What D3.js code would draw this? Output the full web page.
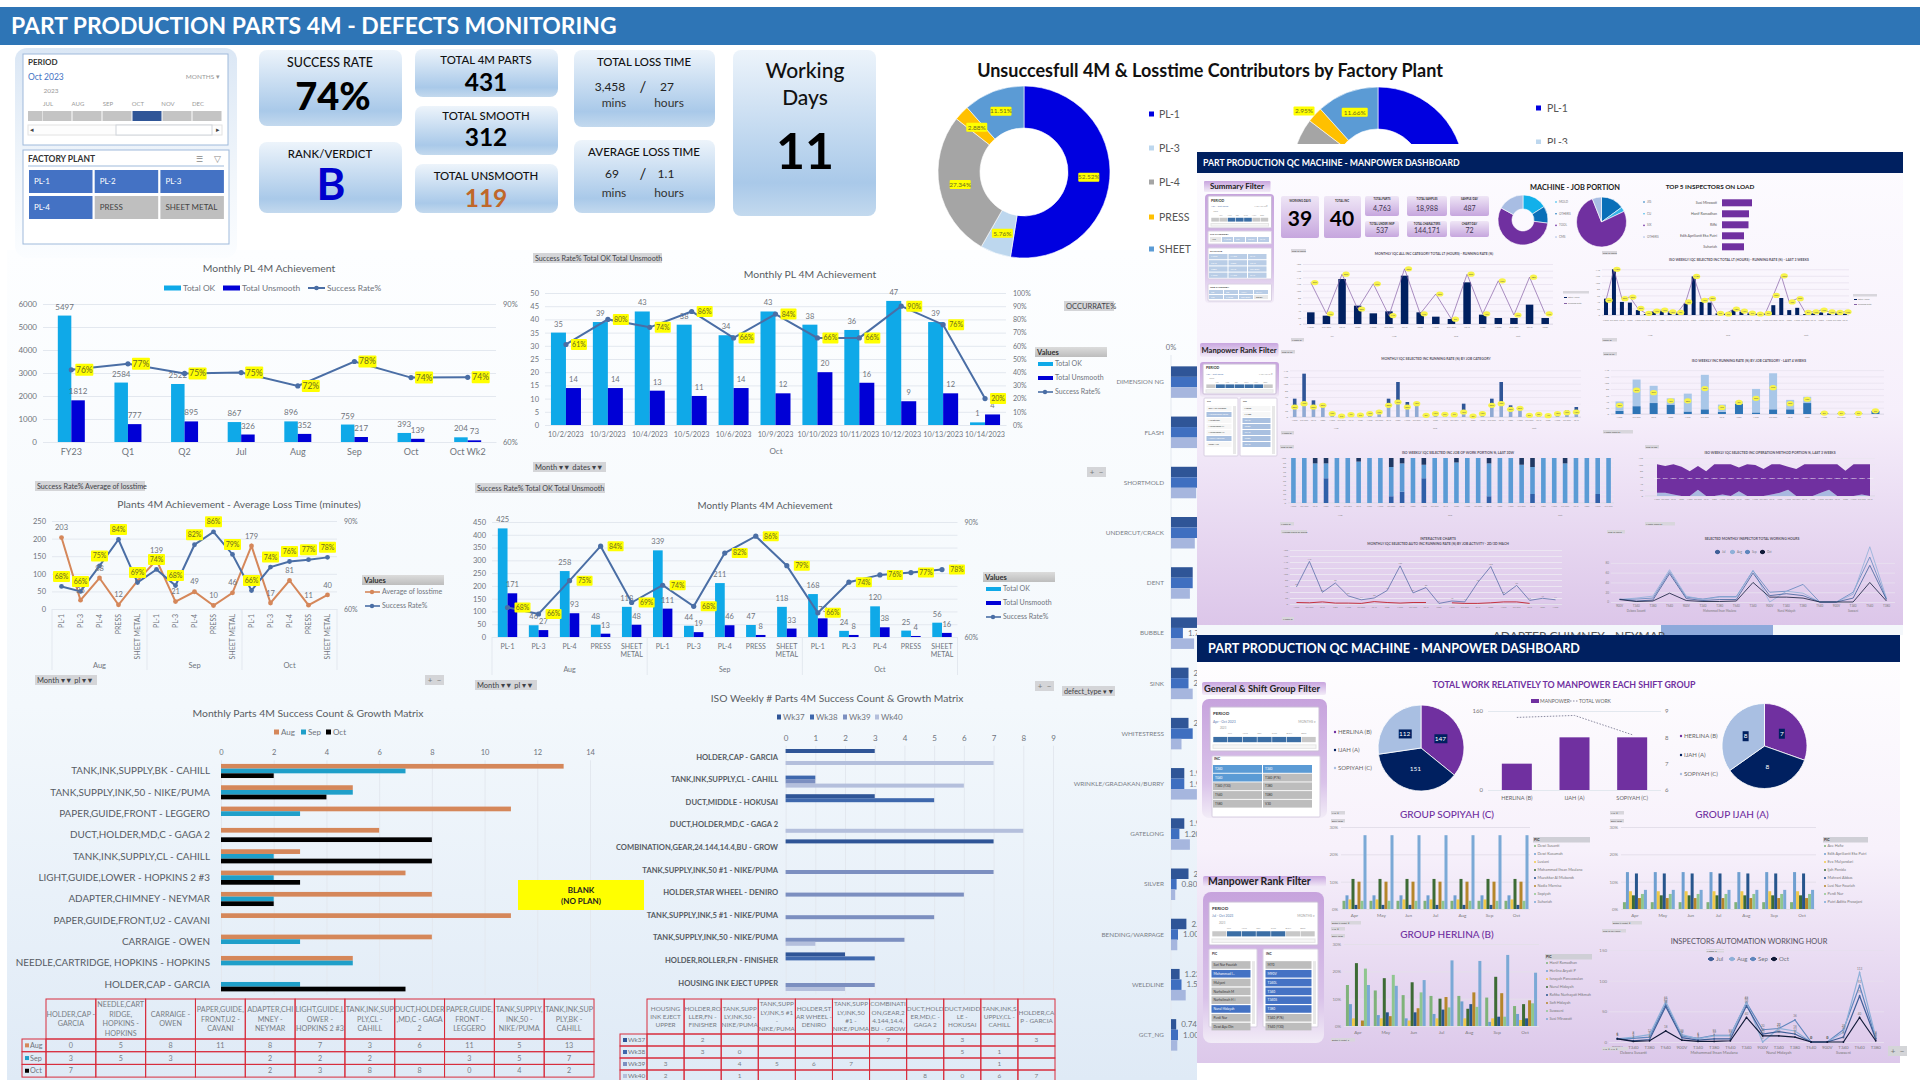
<!DOCTYPE html>
<html>
<head>
<meta charset="utf-8">
<title>Part Production Parts 4M - Defects Monitoring</title>
<style>
html,body{margin:0;padding:0;background:#fff;overflow:hidden}
svg{display:block}
text{font-family:Lato,"Noto Sans",sans-serif}
</style>
<script src="https://d3js.org/d3.v7.min.js"></script>
</head>
<body>
<script>
// ---- data ----
var monthlyCats = ["FY23","Q1","Q2","Jul","Aug","Sep","Oct","Oct Wk2"];
var monthlyOk = [5497,2584,2522,867,896,759,393,204];
var monthlyUnsmooth = [1812,777,895,326,352,217,139,73];
var monthlyRate = [75.7,77,74.9,75.1,72.2,77.5,74,74.05];

var dailyCats = ["10/2/2023","10/3/2023","10/4/2023","10/5/2023","10/6/2023","10/9/2023","10/10/2023","10/11/2023","10/12/2023","10/13/2023","10/14/2023"];
var dailyOk = [35,39,43,38,34,43,38,36,47,39,1];
var dailyUnsmooth = [14,14,13,11,14,12,20,16,9,12,4];
var dailyRate = [61,80,74,86,66,84,66,66,90,76,20];

var plantCats = ["PL-1","PL-3","PL-4","PRESS","SHEET METAL","PL-1","PL-3","PL-4","PRESS","SHEET METAL","PL-1","PL-3","PL-4","PRESS","SHEET METAL"];
var plantMonths = ["Aug","Sep","Oct"];
var plantLoss = [203,25,88,12,80,139,21,49,10,46,179,17,81,11,40];
var plantRate = [67.7,66,74.7,83.7,69,73.5,68,81.9,86.3,78.6,66.3,74.3,76.2,76.8,77.6];
var plantOk = [425,46,258,48,118,339,44,211,47,118,168,24,120,25,56];
var plantUnsmooth = [171,27,93,13,48,111,19,46,8,33,73,8,38,4,16];

var partCats = ["TANK,INK,SUPPLY,BK - CAHILL","TANK,SUPPLY,INK,50 - NIKE/PUMA","PAPER,GUIDE,FRONT - LEGGERO","DUCT,HOLDER,MD,C - GAGA 2","TANK,INK,SUPPLY,CL - CAHILL","LIGHT,GUIDE,LOWER - HOPKINS 2 #3","ADAPTER,CHIMNEY - NEYMAR","PAPER,GUIDE,FRONT,U2 - CAVANI","CARRAIGE - OWEN","NEEDLE,CARTRIDGE, HOPKINS  - HOPKINS","HOLDER,CAP - GARCIA"];
var partAug = [13,5,11,6,3,7,8,11,8,5,0];
var partSep = [7,5,3,null,2,2,2,null,3,5,3];
var partOct = [2,4,0,8,8,3,2,null,null,null,7];
var partHeaders = [["HOLDER,CAP -","GARCIA"],["NEEDLE,CART","RIDGE,","HOPKINS  -","HOPKINS"],["CARRAIGE -","OWEN"],["PAPER,GUIDE,","FRONT,U2 -","CAVANI"],["ADAPTER,CHI","MNEY -","NEYMAR"],["LIGHT,GUIDE,L","OWER -","HOPKINS 2 #3"],["TANK,INK,SUP","PLY,CL -","CAHILL"],["DUCT,HOLDER",",MD,C - GAGA","2"],["PAPER,GUIDE,","FRONT -","LEGGERO"],["TANK,SUPPLY,","INK,50 -","NIKE/PUMA"],["TANK,INK,SUP","PLY,BK -","CAHILL"]];

var weekCats = ["HOLDER,CAP - GARCIA","TANK,INK,SUPPLY,CL - CAHILL","DUCT,MIDDLE - HOKUSAI","DUCT,HOLDER,MD,C - GAGA 2","COMBINATION,GEAR,24.144,14.4,BU - GROW","TANK,SUPPLY,INK,50 #1 - NIKE/PUMA","HOLDER,STAR WHEEL - DENIRO","TANK,SUPPLY,INK,5 #1 - NIKE/PUMA","TANK,SUPPLY,INK,50 - NIKE/PUMA","HOLDER,ROLLER,FN - FINISHER","HOUSING INK EJECT UPPER"];
var wk37 = [3,null,3,null,7,null,null,null,null,2,null];
var wk38 = [null,1,5,null,null,null,null,null,0,3,null];
var wk39 = [null,1,null,null,null,7,6,5,4,null,3];
var wk40 = [7,6,0,8,null,null,null,null,1,null,2];
var weekHeaders = [["HOUSING","INK EJECT","UPPER"],["HOLDER,RO","LLER,FN -","FINISHER"],["TANK,SUPP","LY,INK,50 -","NIKE/PUMA"],["TANK,SUPP","LY,INK,5 #1","-","NIKE/PUMA"],["HOLDER,ST","AR WHEEL -","DENIRO"],["TANK,SUPP","LY,INK,50","#1 -","NIKE/PUMA"],["COMBINATI","ON,GEAR,2","4.144,14.4,","BU - GROW"],["DUCT,HOLD","ER,MD,C -","GAGA 2"],["DUCT,MIDD","LE -","HOKUSAI"],["TANK,INK,S","UPPLY,CL -","CAHILL"],["HOLDER,CA","P - GARCIA"]];

var donutLabels = ["PL-1","PL-3","PL-4","PRESS","SHEET"];
var donutParts = [52.52,5.76,27.34,2.88,11.51];
var donutLoss = [52.41,5.7,27.28,2.95,11.66];

var defectCats = ["DIMENSION NG","FLASH","SHORTMOLD","UNDERCUT/CRACK","DENT","BUBBLE","SINK","WHITESTRESS","WRINKLE/GRADAKAN/BURRY","GATELONG","SILVER","BENDING/WARPAGE","WELDLINE","GCT_NG"];
var defectA = [5,4.5,4,4,3.1,3.8,2.5,2.5,1.9,1.9,2.5,2.2,1.23,0.74];
var defectB = [5,4.2,4,4,3.1,1.7,2.5,3.1,1.9,1.2,0.8,1,1.5,1];
var defectC = [4,3.9,3.6,3.4,2.7,3.3,3.1,1.5,3.7,2.7,0.6,0.9,2.1,0.9];

var qcDays = 39, qcTotal = 40;
var qcKpiNames = ["TOTAL PARTS","TOTAL SAMPLES","SAMPLE/DAY","TOTAL UNDER INSP","TOTAL CHARACTERS","CHART/DAY"];
var qcKpiValues = ["4,763","18,988","487","537","144,171","72"];
var jobLabels = ["MOLD","OTHERS","TOOL","CMS"];
var jobPortion = [16,11,56,17];
var machineLabels = ["JIG","CU","SIX","OTHERS"];
var machinePortion = [15,3,76,6];
var topNames = ["Susi Mirawati","Hanif Ramadhan","Rifki","Edik Aprilianti Eka Putri","Suhariah"];
var topLoad = [30,27,26.5,22,22];

var qcMonthTicks = ["M090","OTHERS","T040","T380","M090","OTHERS","T040","T380","M090","OTHERS","T040","T380","M090","OTHERS","T040","T380"];
var qcMonthHours = [35,25,135,55,32,38,145,35,22,15,125,28,18,18,58,18];
var qcMonthRate = [69,17,83,25,67,14,92,17,50,8,83,17,72,15,78,17];
var qcWeekHours = [50,140,40,38,15,3,10,12,8,5,35,118,40,38,5,3,15,10,5,3,2,30,52,15,22,3,5,8,5,5,4];
var qcWeekRate = [45,140,50,55,20,5,12,15,10,8,40,118,45,50,5,3,18,12,6,3,5,60,120,40,50,8,10,15,10,8,10];
var jobMonthDark = [25,90,20,5,5,2,3,2,5,5,20,60,15,5,3,5,4,3,25,2,5,20,65,12,4,3,4,2,5,7,15];
var jobMonthLight = [30,40,30,35,10,3,7,6,10,15,35,45,30,40,5,10,8,7,15,3,10,35,40,23,26,5,8,4,10,13,15];
var jobWeekBase = [10,25,35,30,8,15,7,32,5,15,15,35,3,2,2,10];
var jobWeekTop = [30,85,55,20,57,110,23,8,75,115,30,20,0,0,0,0];
var stackMid = [0,0,0,55,0,0,0,0,0,15,25,0,55,0,0,0,0,0,15,0,0,0,20,0,0,0,0,0,20,0];
var stackDark = [0,0,12,12,0,0,8,0,0,20,12,0,15,0,0,10,0,0,12,0,0,15,20,0,0,12,0,0,0,0];
var methodTop = [100,95,100,92,78,95,78,100,100,100,90,100,98,85,100,100,92,85,100,100,100,100,100,80,100,100,100];
var methodBase = [10,10,5,0,0,20,0,0,5,0,15,0,0,0,5,10,20,0,0,0,10,20,0,0,0,5,0];
var dailyRunRate = [57,142,39,70,27,14,20,45,127,37,55,2,10,7,72,125,30,62,12,19,14];
var dailyRunTarget = [5,4,7,3,3,2,8,5,3,5,5,null,4,2,2,4,7,7,2,null,null];

var shiftGroups = ["HERLINA (B)","IJAH (A)","SOPIYAH (C)"];
var shiftWork = [147,151,112];
var shiftManpower = [7,8,8];

var monthsShort = ["Apr","May","Jun","Jul","Aug","Sep","Oct"];
var sopiyahNames = ["Dewi Susanti","Dewi Kusumah","Lusiani","Mohammad Ihsan Maulana","Muzakkar Al Mubarok","Nadia Marnisa","Sopiyah","Suhariah"];
var sopiyahShare = [3,5,3.5,11,1.5,10,3,27];
var ijahNames = ["Ace Hafiz","Edik Aprilianti Eka Putri","Eva Mulyandari","Ijah Ponida","Mahrani Abbas","Lusi Nur Fauziah","Perdi Nur","Putri Aditia Prasojani"];
var ijahShare = [2.5,13.5,6.5,5,13,4,5.5,7];
var herlinaNames = ["Hanif Ramadhan","Herlina Aryati P","Isnayah Pancawulan","Nurul Hidayah","Rafika Nurhayati Hikmah","Sofi Hidayah","Suwaeni","Susi Mirawati"];
var herlinaApr = [15,8,2.8,23,0,2,21,15];
var herlinaMay = [13,4,2.8,17.5,5,3.6,18.7,14.7];
var herlinaJun = [11.3,2.8,2,16,5,6.5,12.3,16.8];
var herlinaJul = [11,4.4,2.8,10,6,10.6,6.8,24];
var herlinaAug = [11,9,2.8,6.3,8,12.3,7,23.8];
var herlinaSep = [10.4,1.5,2.8,18,3.4,12,3.4,26];
var herlinaOct = [7.3,4.4,2.2,8,2.8,9.4,8.3,19.5];

var hourTicks = ["900V","T340","T380","T540","900V","T340","T380","T540","T340","900V","T340","T380","T540","900V","T340","T540","T380"];
var hourGroups = ["Debora Susanti","Mohammad Ihsan Maulana","Nurul Hidayah","Suwaeni"];
var hourJul = [6,2,4,58,7,3,5,5,59,13,17,13,0,0,8,75,5];
var hourAug = [5,8,12,66,12,5,10,10,65,0,22,18,0,0,16,113,8];
var hourSep = [5,6,8,62,10,6,11,11,64,20,22,36,0,0,20,92,6];
var hourOct = [5,1,2,18,3,1,1,2,40,10,10,8,0,0,0,40,2];

// ---- colours ----
var cOk = "#0fa9e8", cUn = "#0000d6", cRate = "#4a6ea5", cLoss = "#d5875a";
var cText = "#6f747c", cGrid = "#e3e8ef";
var cNavy = "#002060", cPurple = "#7030a0";
var peopleColors = ["#7fb27a","#6f9fd0","#f0c94a","#3d6b35","#27558c","#b5862a","#8fc68f","#7ba9d6"];

var svg = d3.select("body").append("svg").attr("width",1920).attr("height",1080);
var defs = svg.append("defs");

function grad(id, stops, horizontal) {
  var g = defs.append("linearGradient").attr("id",id).attr("x1",0).attr("y1",0)
    .attr("x2",horizontal?1:0).attr("y2",horizontal?0:1);
  stops.forEach(function(s){ g.append("stop").attr("offset",s[0]).attr("stop-color",s[1]); });
}
grad("pageBg",[[0,"#fdfeff"],[0.55,"#f3f8fc"],[1,"#dfeaf6"]]);
grad("kpi",[[0,"#edf4fb"],[0.8,"#a9c9e9"],[1,"#c3d9ee"]]);
grad("panelBlue",[[0,"#dbe7f5"],[0.6,"#f1f6fb"],[1,"#fbfdff"]]);
grad("qcBg",[[0,"#fdfcff"],[0.55,"#f6effb"],[1,"#dcc6e9"]]);
grad("qcBg2",[[0,"#ffffff"],[0.5,"#f7f1fb"],[1,"#dcc8ea"]]);
grad("chipPurple",[[0,"#c8a5df"],[1,"#f3ecf8"]]);
grad("boxPurple",[[0,"#c7a3dd"],[0.7,"#d9c2e9"],[1,"#f2ecf7"]]);
grad("qcKpi",[[0,"#efe6f6"],[1,"#c6a6de"]]);
grad("chipGray",[[0,"#dcdcdc"],[1,"#bdbdbd"]]);

function txt(g,x,y,s,size,color,anchor,weight) {
  return g.append("text").attr("x",x).attr("y",y).attr("dy",".35em")
    .attr("font-size",size).attr("fill",color||"#000")
    .attr("text-anchor",anchor||"middle").attr("font-weight",weight||400).text(s);
}
function box(g,x,y,w,h,fill,rx,stroke) {
  var r = g.append("rect").attr("x",x).attr("y",y).attr("width",w).attr("height",h).attr("fill",fill);
  if (rx) r.attr("rx",rx);
  if (stroke) r.attr("stroke",stroke).attr("stroke-width",1);
  return r;
}
function chip(x,y,w,h,s,size) {
  box(svg,x,y,w,h,"#d4d5d8");
  txt(svg,x+2,y+h/2,s,size||7.5,"#3f4247","start");
}
function styleAxis(sel,size,color,grid) {
  sel.select(".domain").remove();
  sel.selectAll("line").attr("stroke",grid||cGrid);
  sel.selectAll("text").attr("fill",color||cText).style("font-size",size+"px").style("font-family","Lato,sans-serif");
}
function yellowTag(g,x,y,s,w,h,fs) {
  box(g,x-w/2,y-h/2,w,h,"#ffff00",1);
  txt(g,x,y,s,fs,"#6b6b20");
}

// generic bars + line chart on two value axes
function combo(o) {
  var g = svg.append("g");
  var fs = o.fs||9;
  var x = d3.scaleBand().domain(d3.range(o.cats.length)).range([o.x0,o.x1]);
  var y = d3.scaleLinear().domain([0,o.yMax]).range([o.y0,o.yTop]);
  var r = d3.scaleLinear().domain(o.rDomain).range([o.y0,o.yTop]);
  g.append("g").attr("transform","translate("+o.x0+",0)")
    .call(d3.axisLeft(y).tickValues(o.yTicks).tickSize(-(o.x1-o.x0)).tickPadding(o.pad||6).tickFormat(d3.format("d")))
    .call(styleAxis,fs);
  g.append("g").attr("transform","translate("+o.x1+",0)")
    .call(d3.axisRight(r).tickValues(o.rTicks).tickSize(0).tickPadding(o.rPad||7).tickFormat(function(d){return d+"%";}))
    .call(styleAxis,fs-0.5);
  var xa = g.append("g").attr("transform","translate(0,"+o.y0+")")
    .call(d3.axisBottom(x).tickSize(0).tickSizeOuter(0).tickPadding(o.catPad||7).tickFormat(function(i){return o.cats[i];}));
  xa.select(".domain").attr("stroke",cGrid);
  xa.selectAll("text").attr("fill",cText).style("font-size",(o.catFs||fs+1)+"px").style("font-family","Lato,sans-serif");
  if (o.rotate) {
    xa.selectAll("text").attr("transform","rotate(-90)").attr("text-anchor","end")
      .attr("x",-5).attr("y",0).attr("dy",".35em");
  }
  if (o.wrap) {
    xa.selectAll("text").each(function(i){
      var parts = o.cats[i].split(" "), t = d3.select(this);
      if (parts.length < 2) return;
      t.text(null);
      parts.forEach(function(p,k){ t.append("tspan").attr("x",0).attr("dy",k?"1.15em":"0.71em").text(p); });
    });
  }
  var bw = o.barW, nb = o.bars.length;
  o.bars.forEach(function(b,k){
    var offs = (k-nb/2)*bw;
    g.selectAll(null).data(b.vals).enter().append("rect")
      .attr("x",function(d,i){return x(i)+x.bandwidth()/2+offs;})
      .attr("y",function(d){return y(d);})
      .attr("width",bw)
      .attr("height",function(d){return o.y0-y(d);})
      .attr("fill",b.color);
    if (o.barLabels) {
      g.selectAll(null).data(b.vals).enter().append("text")
        .attr("x",function(d,i){return x(i)+x.bandwidth()/2+offs+bw/2;})
        .attr("y",function(d){return y(d)-6;})
        .attr("text-anchor","middle").attr("font-size",fs).attr("fill",cText)
        .text(function(d){return d;});
    }
  });
  (o.lines||[]).forEach(function(ln){
    var sc = ln.left ? y : r;
    var line = d3.line().x(function(d,i){return x(i)+x.bandwidth()/2;}).y(function(d){return sc(d);});
    g.append("path").attr("d",line(ln.vals)).attr("fill","none").attr("stroke",ln.color).attr("stroke-width",ln.w||2);
    g.selectAll(null).data(ln.vals).enter().append("circle")
      .attr("cx",function(d,i){return x(i)+x.bandwidth()/2;})
      .attr("cy",function(d){return sc(d);})
      .attr("r",ln.mr===undefined?2.6:ln.mr).attr("fill",ln.color);
  });
  (o.lines||[]).forEach(function(ln){
    var sc = ln.left ? y : r;
    ln.vals.forEach(function(d,i){
      var cx = x(i)+x.bandwidth()/2, cy = sc(d);
      if (ln.plainLabels) txt(g,cx,cy-10,d,fs,cText);
    });
  });
  (o.lines||[]).forEach(function(ln){
    var sc = ln.left ? y : r;
    ln.vals.forEach(function(d,i){
      var cx = x(i)+x.bandwidth()/2, cy = sc(d);
      if (ln.tag) yellowTag(g,cx+ln.tag.dx,cy+ln.tag.dy,Math.round(d)+"%",ln.tag.w,ln.tag.h,ln.tag.fs);
    });
  });
  return {g:g,x:x,y:y};
}

// brackets under a chart with month names
function monthBrackets(c,o) {
  var per = 5, step = c.x.bandwidth();
  d3.range(plantMonths.length+1).forEach(function(k){
    var px = c.x(0)+k*per*step;
    c.g.append("line").attr("x1",px).attr("x2",px).attr("y1",o.y0).attr("y2",o.y1).attr("stroke",cGrid);
    if (k<plantMonths.length) txt(c.g,px+per*step/2,o.yLabel,plantMonths[k],o.fs||8.5,cText);
  });
}

function legendRow(items,y,fs) {
  items.forEach(function(it){
    if (it.line) {
      svg.append("line").attr("x1",it.x).attr("x2",it.x+it.w).attr("y1",y).attr("y2",y).attr("stroke",it.color).attr("stroke-width",2);
      svg.append("circle").attr("cx",it.x+it.w/2).attr("cy",y).attr("r",2.3).attr("fill",it.color);
    } else {
      box(svg,it.x,y-(it.h||5)/2,it.w,it.h||5,it.color);
    }
    txt(svg,it.x+it.w+2,y,it.name,fs,cText,"start");
  });
}
function valuesLegend(x,y,w,items,step) {
  box(svg,x,y,w,10,"url(#chipGray)");
  txt(svg,x+2,y+5,"Values",7.5,"#333","start",700);
  items.forEach(function(it,i){
    var ly = y+17+i*step;
    if (it.line) {
      svg.append("line").attr("x1",x+3).attr("x2",x+18).attr("y1",ly).attr("y2",ly).attr("stroke",it.color).attr("stroke-width",1.6);
      svg.append("circle").attr("cx",x+10).attr("cy",ly).attr("r",2.2).attr("fill",it.color);
    } else {
      box(svg,x+3,ly-2,15,4,it.color);
    }
    txt(svg,x+20,ly,it.name,7,cText,"start");
  });
}
function plusMinus(x,y) {
  box(svg,x,y,19,10,"#d4d5d8");
  txt(svg,x+5,y+5,"+",8,"#777");
  txt(svg,x+14,y+5,"\u2212",8,"#777");
}

// horizontal grouped bars with a value axis on top
function hbars(o) {
  var g = svg.append("g");
  var x = d3.scaleLinear().domain([0,o.xMax]).range([o.x0,o.x1]);
  var y = d3.scaleBand().domain(d3.range(o.cats.length)).range([o.yTop,o.yBottom]);
  g.append("g").attr("transform","translate(0,"+o.yTop+")")
    .call(d3.axisTop(x).tickValues(o.ticks).tickSize(-(o.yBottom-o.yTop)).tickPadding(o.tickPad))
    .call(styleAxis,o.tickFs);
  var inner = d3.scaleBand().domain(d3.range(o.series.length))
    .range([-o.barH*o.series.length/2,o.barH*o.series.length/2]);
  o.series.forEach(function(s,k){
    g.selectAll(null).data(s.vals).enter().append("rect")
      .attr("x",o.x0)
      .attr("y",function(d,i){return y(i)+y.bandwidth()/2+inner(k);})
      .attr("width",function(d){return d?x(d)-o.x0:0;})
      .attr("height",o.barH)
      .attr("fill",s.color);
  });
  g.selectAll(null).data(o.cats).enter().append("text")
    .attr("x",o.x0-o.labelGap)
    .attr("y",function(d,i){return y(i)+y.bandwidth()/2;})
    .attr("dy",".35em").attr("text-anchor","end")
    .attr("font-size",o.labelFs).attr("font-weight",o.labelWeight||400).attr("fill","#565b63")
    .text(function(d){return d;});
}

function matrix(o) {
  var g = svg.append("g");
  var x = d3.scaleBand().domain(d3.range(o.headers.length)).range([o.x0,o.x1]);
  var y = d3.scaleBand().domain(d3.range(o.rows.length)).range([o.yHead,o.yHead+o.rowH*o.rows.length]);
  var red = "#d82c3c";
  o.headers.forEach(function(h,i){
    box(g,x(i),o.yTop,x.bandwidth(),o.yHead-o.yTop,"none",0,red);
    var start = o.yTop+(o.yHead-o.yTop)/2-(h.length-1)*o.lineH/2;
    h.forEach(function(l,k){ txt(g,x(i)+x.bandwidth()/2,start+k*o.lineH,l,o.fs,"#777c84"); });
  });
  o.rows.forEach(function(r,j){
    box(g,o.xLabel,y(j),o.x0-o.xLabel,o.rowH,"none",0,red);
    box(g,o.xLabel+3,y(j)+o.rowH/2-2,4,4,r.color);
    txt(g,o.xLabel+8,y(j)+o.rowH/2,r.name,o.fs,"#6f747c","start");
    r.vals.forEach(function(v,i){
      box(g,x(i),y(j),x.bandwidth(),o.rowH,"none",0,red);
      if (v!==null) txt(g,x(i)+x.bandwidth()/2,y(j)+o.rowH/2,v,o.fs,"#777c84");
    });
  });
}

function pieChart(g,cx,cy,r,inner,vals,colors,pad) {
  var pie = d3.pie().sort(null)(vals);
  var arc = d3.arc().innerRadius(inner).outerRadius(r);
  g.selectAll(null).data(pie).enter().append("path")
    .attr("transform","translate("+cx+","+cy+")")
    .attr("d",arc).attr("fill",function(d,i){return colors[i];})
    .attr("stroke","#fff").attr("stroke-width",pad===undefined?0.6:pad);
  return pie.map(function(d){ var c = arc.centroid(d); return [cx+c[0],cy+c[1]]; });
}

// small slicer pieces
function periodSlicer(x,y,w,h,title,sub,start,end,fs) {
  box(svg,x,y,w,h,"#fff",1,"#c9bcd6");
  txt(svg,x+3,y+h*0.14,title,fs+1,"#333","start",700);
  txt(svg,x+3,y+h*0.33,sub,fs,"#5b7bb0","start");
  txt(svg,x+w-3,y+h*0.33,"MONTHS \u25BE",fs,"#999","end");
  txt(svg,x+w*0.12,y+h*0.48,"2023",fs*0.8,"#999");
  var mon = ["JUL","AUG","SEP","OCT","NOV","DEC"];
  var mx = d3.scaleBand().domain(d3.range(7)).range([x+3,x+w-3]);
  mon.forEach(function(m,i){ txt(svg,mx(i+1),y+h*0.6,m,fs*0.75,"#999","start"); });
  var by = y+h*0.68, bh = h*0.12;
  d3.range(7).forEach(function(i){
    box(svg,mx(i)+0.3,by,mx.bandwidth()-0.6,bh,(i>=start&&i<end)?"#3b6ea5":"#c8c8c8");
  });
  box(svg,x+3,y+h*0.86,w-6,h*0.08,"#f6f6f6",0,"#e5e5e5");
}
function buttons(x,y,cols,rows,bw,bh,gx,gy,labels,isOn,on,off,fs) {
  d3.range(rows).forEach(function(r){
    d3.range(cols).forEach(function(c){
      var i = r*cols+c, px = x+c*(bw+gx), py = y+r*(bh+gy), active = isOn(i);
      box(svg,px,py,bw,bh,active?on:off);
      txt(svg,px+2,py+bh/2,labels[i%labels.length],fs,active?"#fff":"#333","start");
    });
  });
}
function listSlicer(x,y,w,h,title,labels,isOn,on,off,fs,rows,bh,gy) {
  box(svg,x,y,w,h,"#fff",1,"#d8cfe2");
  txt(svg,x+3,y+bh*0.7,title,fs,"#333","start",700);
  buttons(x+2.5,y+bh*1.6,1,rows,w-9,bh,0,gy,labels,isOn,on,off,fs);
  box(svg,x+w-5,y+bh*1.6,3,h-bh*2,"#e8e8e8");
}

// ---- left side background and header ----
box(svg,7,250,1190,830,"url(#pageBg)");
box(svg,0,7,1920,38,"#2e75b6");
txt(svg,11,26,"PART PRODUCTION PARTS 4M - DEFECTS MONITORING",22.9,"#fff","start",700);

// period + factory panel
box(svg,15,48,222,210,"url(#panelBlue)",12);
box(svg,23,54,205,91,"#fff",0,"#9fbadb");
txt(svg,28,62,"PERIOD",8,"#333","start",700);
txt(svg,28,77,"Oct 2023",8.5,"#4472c4","start");
txt(svg,220,77,"MONTHS \u25BE",6.5,"#999","end");
txt(svg,51,91,"2023",6.5,"#999");
var sliceMonths = ["JUL","AUG","SEP","OCT","NOV","DEC"];
var sliceX = d3.scaleBand().domain(d3.range(sliceMonths.length)).range([42,222]);
sliceMonths.forEach(function(m,i){ txt(svg,sliceX(i)+sliceX.bandwidth()/2-9,104,m,6,"#999"); });
box(svg,28,111,14,10,"#c4c4c4");
sliceMonths.forEach(function(m,i){
  box(svg,sliceX(i)+0.5,111,sliceX.bandwidth()-1,10,i==3?"#2f5597":"#c4c4c4");
});
box(svg,28,125,194,10,"#fdfdfd",0,"#e2e2e2");
box(svg,116,125,96,10,"#fff",0,"#cfd4da");
txt(svg,32,130,"\u25C2",7,"#444");
txt(svg,218,130,"\u25B8",7,"#444");
box(svg,23,150,206,94,"#fff",0,"#9fbadb");
txt(svg,28,159,"FACTORY PLANT",8.5,"#333","start",700);
svg.append("line").attr("x1",28).attr("x2",224).attr("y1",166).attr("y2",166).attr("stroke","#9fbadb");
txt(svg,199,159,"\u2630",8,"#888");
txt(svg,217,159,"\u25BD",9,"#888");
var plantButtons = ["PL-1","PL-2","PL-3","PL-4","PRESS","SHEET METAL"];
plantButtons.forEach(function(p,i){
  var bx = 29+(i%3)*65.7, by = 170+Math.floor(i/3)*26, on = i<3||i==3;
  box(svg,bx,by,63.5,23,on?"#4472c4":"#bfbfbf");
  txt(svg,bx+5,by+11.5,p,8,on?"#fff":"#444","start");
});

// KPI cards
function card(x,y,w,h) { box(svg,x,y,w,h,"url(#kpi)",8); }
card(259,50,143,76); card(259,142,143,71);
card(415,49,143,48); card(415,106,143,49); card(415,164,143,49);
card(574,50,141,77); card(574,140,141,73);
card(733,50,143,166);
txt(svg,330,63,"SUCCESS RATE",12.4,"#111","middle",500);
txt(svg,333,97,"74%",38,"#000","middle",900);
txt(svg,330,154,"RANK/VERDICT",11.4,"#111","middle",500);
txt(svg,331,185,"B",44,"#0000cd","middle",700);
txt(svg,486,60,"TOTAL 4M PARTS",11.4,"#111","middle",500);
txt(svg,486,82,"431",24.5,"#000","middle",700);
txt(svg,486,116.5,"TOTAL SMOOTH",11.4,"#111","middle",500);
txt(svg,486,137.5,"312",24.5,"#000","middle",700);
txt(svg,486,176,"TOTAL UNSMOOTH",11.4,"#111","middle",500);
txt(svg,486,198,"119",24.5,"#c0672a","middle",700);
txt(svg,644,62,"TOTAL LOSS TIME",11.4,"#111","middle",500);
txt(svg,610,87,"3,458",12,"#222");
txt(svg,643,87,"/",15,"#222");
txt(svg,667,87,"27",12,"#222");
txt(svg,614,103,"mins",12,"#333");
txt(svg,669,103,"hours",12,"#333");
txt(svg,644,152,"AVERAGE LOSS TIME",11.5,"#111","middle",500);
txt(svg,612,174,"69",12,"#222");
txt(svg,643,174,"/",15,"#222");
txt(svg,666,174,"1.1",12,"#222");
txt(svg,614,193,"mins",12,"#333");
txt(svg,669,193,"hours",12,"#333");
txt(svg,805,71,"Working",21,"#111","middle",500);
txt(svg,805,98,"Days",21,"#111","middle",500);
txt(svg,805,151,"11",50,"#000","middle",700);

// contributors donuts
txt(svg,1210,71,"Unsuccesfull 4M & Losstime Contributors by Factory Plant",18,"#111","middle",700);
var donutColors = ["#0000e0","#bdd7ee","#a5a5a5","#ffc000","#5b9bd5"];
var dc = pieChart(svg,1024,172,86,44,donutParts,donutColors);
dc.forEach(function(p,i){ yellowTag(svg,p[0],p[1],donutParts[i].toFixed(2)+"%",21,9,6.5); });
donutLabels.forEach(function(l,i){
  box(svg,1149,[114,148,182,217,249][i]-2.5,5,5,donutColors[i]);
  txt(svg,1159,[114,148,182,217,249][i],l,10.5,"#555","start");
});
defs.append("clipPath").attr("id","clipTop").append("rect").attr("x",1200).attr("y",60).attr("width",720).attr("height",84);
var clipG = svg.append("g").attr("clip-path","url(#clipTop)");
var dc2 = pieChart(clipG,1378,173,86,44,donutLoss,donutColors);
yellowTag(clipG,1304,111,donutLoss[3].toFixed(2)+"%",21,9,6.5);
yellowTag(clipG,dc2[4][0],dc2[4][1],donutLoss[4].toFixed(2)+"%",26,9,6.5);
box(clipG,1536,105.5,5,5,donutColors[0]);
txt(clipG,1547,108,donutLabels[0],10.5,"#555","start");
box(clipG,1536,139.5,5,5,donutColors[1]);
txt(clipG,1547,142,donutLabels[1],10.5,"#555","start");

// monthly PL achievement
txt(svg,269,268,"Monthly PL 4M Achievement",10.4,"#595d63");
legendRow([{x:164,w:17,color:cOk,name:"Total OK"},{x:223,w:17,color:cUn,name:"Total Unsmooth"},{x:308,w:17,color:cRate,line:true,name:"Success Rate%"}],288,8.4);
combo({cats:monthlyCats,x0:43,x1:496,y0:442,yTop:304,yMax:6000,yTicks:d3.range(0,7000,1000),
  rDomain:[60,90],rTicks:[60,90],bars:[{vals:monthlyOk,color:cOk},{vals:monthlyUnsmooth,color:cUn}],barW:13.5,barLabels:true,fs:8,catFs:9,
  lines:[{vals:monthlyRate,color:cRate,tag:{dx:13,dy:0,w:18,h:12,fs:8.5}}]});

// daily achievement
chip(533,253,129,10,"Success Rate%   Total OK   Total Unsmooth",7.2);
txt(svg,810,274,"Monthly PL 4M Achievement",10.4,"#595d63");
var daily = combo({cats:dailyCats,x0:545,x1:1006,y0:425,yTop:293,yMax:50,yTicks:d3.range(0,55,5),
  rDomain:[0,100],rTicks:d3.range(0,110,10),bars:[{vals:dailyOk,color:cOk},{vals:dailyUnsmooth,color:cUn}],barW:15,barLabels:true,fs:7.5,catFs:7.2,
  lines:[{vals:dailyRate,color:cRate,tag:{dx:13,dy:0,w:16,h:11,fs:7}}]});
txt(svg,776,451,"Oct",8,cText);
chip(1064,301,50,10,"OCCURRATE%",7.5);
valuesLegend(1035,347,72,[{color:cOk,name:"Total OK"},{color:cUn,name:"Total Unsmooth"},{color:cRate,line:true,name:"Success Rate%"}],14);
chip(533,462,73,10,"Month  \u25BE\u25BC  dates  \u25BE\u25BC",7.5);
plusMinus(1087,467);

// plants loss time
chip(35,481,110,10,"Success Rate%   Average of losstime",7.2);
txt(svg,239,504,"Plants 4M Achievement - Average Loss Time (minutes)",10.3,"#595d63");
var loss = combo({cats:plantCats,x0:52,x1:337,y0:609,yTop:521,yMax:250,yTicks:d3.range(0,300,50),
  rDomain:[60,90],rTicks:[60,90],bars:[],barW:0,fs:7.5,catFs:7,rotate:true,
  lines:[{vals:plantLoss,color:cLoss,left:true,mr:2.4,plainLabels:true},
         {vals:plantRate,color:cRate,mr:2.4,tag:{dx:0,dy:-10,w:17,h:11,fs:7}}]});
monthBrackets(loss,{y0:609,y1:670,yLabel:665,fs:7.5});
valuesLegend(362,575,82,[{color:cLoss,line:true,name:"Average of losstime"},{color:cRate,line:true,name:"Success Rate%"}],14);
chip(35,675,62,10,"Month  \u25BE\u25BC  pl  \u25BE\u25BC",7.5);
plusMinus(425,675);

// plants achievement
chip(475,483,130,10,"Success Rate%   Total OK   Total Unsmooth",7.2);
txt(svg,765,506,"Montly Plants 4M Achievement",9.8,"#595d63");
var plants = combo({cats:plantCats,x0:492,x1:957.5,y0:637,yTop:522,yMax:450,yTicks:d3.range(0,500,50),
  rDomain:[60,90],rTicks:[60,90],bars:[{vals:plantOk,color:cOk},{vals:plantUnsmooth,color:cUn}],barW:9.7,barLabels:true,fs:7.5,catFs:7,wrap:true,
  lines:[{vals:plantRate,color:cRate,tag:{dx:15,dy:0,w:16,h:10,fs:6.8}}]});
monthBrackets(plants,{y0:637,y1:675,yLabel:670,fs:7});
valuesLegend(983,572,72,[{color:cOk,name:"Total OK"},{color:cUn,name:"Total Unsmooth"},{color:cRate,line:true,name:"Success Rate%"}],14);
chip(475,680,62,10,"Month  \u25BE\u25BC  pl  \u25BE\u25BC",7.5);
plusMinus(1035,681);
chip(1062,686,53,10,"defect_type  \u25BE\u25BC",7.2);

// monthly parts matrix
txt(svg,308,713,"Monthly Parts 4M Success Count & Growth Matrix",10.4,"#595d63");
legendRow([{x:274,w:5,color:cLoss,name:"Aug"},{x:301,w:5,color:"#1f9fc9",name:"Sep"},{x:326,w:5,color:"#000",name:"Oct"}],732,8);
hbars({cats:partCats,x0:221,x1:590,yTop:760.3,yBottom:995,xMax:14,ticks:d3.range(0,16,2),tickPad:5,tickFs:7.5,
  barH:4.7,labelGap:11,labelFs:9.9,
  series:[{vals:partAug,color:cLoss},{vals:partSep,color:"#1f9fc9"},{vals:partOct,color:"#000"}]});
box(svg,518,880,126,30,"#ffff00");
txt(svg,581,890,"BLANK",8,"#222","middle",700);
txt(svg,581,901,"(NO PLAN)",8,"#222","middle",700);
matrix({x0:46,x1:594,xLabel:22,yTop:999,yHead:1039,rowH:12.7,headers:partHeaders,fs:7.2,lineH:9.6,
  rows:[{name:"Aug",color:cLoss,vals:partAug.slice().reverse()},{name:"Sep",color:"#1f9fc9",vals:partSep.slice().reverse()},{name:"Oct",color:"#000",vals:partOct.slice().reverse()}]});

// weekly parts matrix
txt(svg,837,698,"ISO Weekly # Parts 4M Success Count & Growth Matrix",10.3,"#595d63");
var wkColors = ["#2f5597","#3f68ad","#7c8fc0","#b4bfdc"];
legendRow([{x:777,w:4,color:wkColors[0],name:"Wk37"},{x:810,w:4,color:wkColors[1],name:"Wk38"},{x:843,w:4,color:wkColors[2],name:"Wk39"},{x:875,w:4,color:wkColors[3],name:"Wk40"}],717,8);
hbars({cats:weekCats,x0:785.6,x1:1053,yTop:745.7,yBottom:994.3,xMax:9,ticks:d3.range(0,10,1),tickPad:5,tickFs:8,
  barH:4,labelGap:7.5,labelFs:7.6,labelWeight:700,
  series:[{vals:wk37,color:wkColors[0]},{vals:wk38,color:wkColors[1]},{vals:wk39,color:wkColors[2]},{vals:wk40,color:wkColors[3]}]});
matrix({x0:647,x1:1055,xLabel:620,yTop:999,yHead:1034,rowH:12,headers:weekHeaders,fs:6.4,lineH:8.2,
  rows:[{name:"Wk37",color:wkColors[0],vals:wk37.slice().reverse()},{name:"Wk38",color:wkColors[1],vals:wk38.slice().reverse()},{name:"Wk39",color:wkColors[2],vals:wk39.slice().reverse()},{name:"Wk40",color:wkColors[3],vals:wk40.slice().reverse()}]});

// defect chart, mostly hidden behind the two dashboards
(function(){
  var g = svg.append("g");
  var x = d3.scaleLinear().domain([0,1]).range([1171,1178]);
  var y = d3.scaleBand().domain(d3.range(defectCats.length)).range([357,1060]);
  txt(g,1171,347,"0%",7.5,cText);
  g.append("line").attr("x1",1171).attr("x2",1171).attr("y1",355).attr("y2",1060).attr("stroke",cGrid);
  [[defectA,"#2f5597",-10.5],[defectB,"#3f6fc0",0],[defectC,"#a6b6de",10.5]].forEach(function(s,k){
    g.selectAll(null).data(s[0]).enter().append("rect")
      .attr("x",1171).attr("y",function(d,i){return y(i)+y.bandwidth()/2+s[2]-5.25;})
      .attr("width",function(d){return x(d)-1171;}).attr("height",10.5).attr("fill",s[1]);
    if (k<2) g.selectAll(null).data(s[0]).enter().append("text")
      .attr("x",function(d){return x(d)+5;}).attr("y",function(d,i){return y(i)+y.bandwidth()/2+s[2];})
      .attr("dy",".35em").attr("font-size",8).attr("fill",cText)
      .text(function(d){return d.toFixed(2)+"%";});
  });
  g.selectAll(null).data(defectCats).enter().append("text")
    .attr("x",1164).attr("y",function(d,i){return y(i)+y.bandwidth()/2;}).attr("dy",".35em")
    .attr("text-anchor","end").attr("font-size",6.4).attr("fill","#7a7f87")
    .text(function(d){return d;});
})();

// ---- upper QC dashboard ----
box(svg,1197,152,706,473,"url(#qcBg)");
box(svg,1197,152,706,21,cNavy);
txt(svg,1203,162.5,"PART PRODUCTION QC MACHINE - MANPOWER DASHBOARD",8.7,"#fff","start",700);

// hidden chart strip between the panels
box(svg,1197,625,706,10,"#f4f7fb");
box(svg,1661,625,112,10,"#8ea9db");
defs.append("clipPath").attr("id","clipStrip").append("rect").attr("x",1197).attr("y",625).attr("width",706).attr("height",10);
txt(svg.append("g").attr("clip-path","url(#clipStrip)"),1579,636,"ADAPTER CHIMNEY - NEYMAR",12,"#555");

// filters
box(svg,1204,181,66.5,11,"url(#chipPurple)",1);
txt(svg,1237,186.5,"Summary Filter",8,"#222","middle",700);
box(svg,1205,194,69,109,"url(#boxPurple)",4);
periodSlicer(1208,196,63.5,32,"PERIOD","Apr - Oct 2023",2,5,2.6);
box(svg,1208,231,63.5,13,"#fff",1,"#d8cfe2");
txt(svg,1210,234,"INC CATEGORY",2.6,"#333","start",700);
buttons(1210,237,5,1,11,5,1,0,["ALL","MOLD","JIG","TOOL","CMS"],function(i){return i>0;},"#b9cde6","#e8e8e8",2.4);
box(svg,1208,248,63.5,31,"#fff",1,"#d8cfe2");
txt(svg,1210,251,"MACHINE",2.6,"#333","start",700);
buttons(1209,254,3,4,18.5,5.2,1,1,["M090","M180","CMS","T340","T380","T040","T080","T540","OTHERS"],function(){return true;},"#b9cde6","#e8e8e8",2.4);
box(svg,1208,284,63.5,17,"#fff",1,"#d8cfe2");
txt(svg,1210,287,"JOB CATEGORY",2.6,"#333","start",700);
buttons(1209,290,4,2,14,4,1,1,["2D","3D","ASSY","CMM","JIG","MOLD","OTHERS","TOOL"],function(i){return i<7;},"#b9cde6","#e8e8e8",2.4);

box(svg,1200,343,78.5,14,"url(#chipPurple)",2);
txt(svg,1239,350,"Manpower Rank Filter",7.6,"#222","middle",700);
box(svg,1200,362,79,35,"url(#boxPurple)",3);
periodSlicer(1203,364,73,30,"PERIOD","Apr - Oct 2023",1,6,2.6);
listSlicer(1204,398,34,58,"PIC",["Sari Nur Fauziah","Mohammad Ihsan","Nurfitriani","Nurhalimah M","Nurhalimah Hi","Nurul Hidayah","Perdi Nur","Dewi Ayu"],function(i){return i==1||i==5;},"#a9c0e0","#f7f7f7",2.5,7,5,1);
listSlicer(1240,398,37,58,"MC",["M090","M180","T040","T080","T340","T380","T540"],function(i){return i>1&&i<7;},"#a9c0e0","#f7f7f7",2.5,7,5,1);

// KPI tiles
function qcTile(x,y,w,h) { box(svg,x,y,w,h,"url(#qcKpi)",2); }
qcTile(1281,196,38,42); qcTile(1324,196,37,42);
txt(svg,1300,201,"WORKING DAYS",2.8,"#333","middle",700);
txt(svg,1342,201,"TOTAL INC",2.8,"#333","middle",700);
txt(svg,1300,219,qcDays,21,"#000","middle",700);
txt(svg,1342,219,qcTotal,21,"#000","middle",700);
var tileX = [1365,1407,1450], tileY = [196,221], tileW = [34,40,39], tileH = [20,16];
qcKpiNames.forEach(function(n,i){
  var c = i%3, r = Math.floor(i/3);
  qcTile(tileX[c],tileY[r],tileW[c],tileH[r]);
  txt(svg,tileX[c]+tileW[c]/2,tileY[r]+3,n,2.7,"#333","middle",700);
  txt(svg,tileX[c]+tileW[c]/2,tileY[r]+tileH[r]*0.62,qcKpiValues[i],7,"#3f3550");
});

// job portion pies and top five
txt(svg,1575,187,"MACHINE - JOB PORTION",7.4,"#222","middle",700);
txt(svg,1710,187,"TOP 5 INSPECTORS ON LOAD",6.4,"#222","middle",700);
var jobColors = ["#12b0ea","#0a6fb8",cPurple,"#a8bde3"];
pieChart(svg,1523,220,25,11,jobPortion,jobColors);
jobLabels.forEach(function(l,i){
  svg.append("circle").attr("cx",1556).attr("cy",202+i*11.7).attr("r",0.8).attr("fill",jobColors[i]);
  txt(svg,1559,202+i*11.7,l,3,"#777","start");
});
var machColors = ["#0a6fb8","#35b4e8",cPurple,"#a8bde3"];
pieChart(svg,1601.5,222,25,0,machinePortion,machColors);
machineLabels.forEach(function(l,i){
  svg.append("circle").attr("cx",1644).attr("cy",202+i*11.7).attr("r",0.8).attr("fill",machColors[i]);
  txt(svg,1647,202+i*11.7,l,3,"#777","start");
});
(function(){
  var x = d3.scaleLinear().domain([0,30]).range([1722,1752]);
  var y = d3.scaleBand().domain(d3.range(topNames.length)).range([197.5,252.5]);
  svg.selectAll(null).data(topLoad).enter().append("rect")
    .attr("x",1722).attr("y",function(d,i){return y(i)+1.8;})
    .attr("width",function(d){return x(d)-1722;}).attr("height",7).attr("fill",cPurple);
  topNames.forEach(function(n,i){ txt(svg,1717,y(i)+5.5,n,3.6,"#555","end"); });
})();

// tiny chart helper for the embedded dashboards
function tinyAxes(o) {
  var g = svg.append("g");
  var y = d3.scaleLinear().domain([0,o.yMax]).range([o.y0,o.yTop]);
  g.append("g").attr("transform","translate("+o.x0+",0)")
    .call(d3.axisLeft(y).ticks(o.ticks||6).tickSize(-(o.x1-o.x0)).tickPadding(2))
    .call(styleAxis,2.6,"#888","#ece6f2");
  g.append("line").attr("x1",o.x0).attr("x2",o.x1).attr("y1",o.y0).attr("y2",o.y0).attr("stroke","#cfc8d8").attr("stroke-width",0.5);
  return {g:g,y:y,x:d3.scaleBand().domain(d3.range(o.n)).range([o.x0,o.x1])};
}
function tinyTitle(x,y,s) { txt(svg,x,y,s,3.4,"#55505e","middle",700); }
function tinyChip(x,y,w,s) { box(svg,x,y,w,3.5,"#d8d6dc"); txt(svg,x+1,y+1.75,s,2.4,"#444","start"); }
function tinyBars(c,vals,base,w,color) {
  c.g.selectAll(null).data(vals).enter().append("rect")
    .attr("x",function(d,i){return c.x(i)+c.x.bandwidth()/2-w/2;})
    .attr("y",function(d,i){return c.y((base?base[i]:0)+d);})
    .attr("width",w)
    .attr("height",function(d,i){return c.y(base?base[i]:0)-c.y((base?base[i]:0)+d);})
    .attr("fill",color);
}
function tinyLine(c,vals,color,w) {
  var line = d3.line().defined(function(d){return d!==null;})
    .x(function(d,i){return c.x(i)+c.x.bandwidth()/2;}).y(function(d){return c.y(d);});
  c.g.append("path").attr("d",line(vals)).attr("fill","none").attr("stroke",color).attr("stroke-width",w||0.7);
}
function tinyTags(c,vals,pos,fmt) {
  vals.forEach(function(d,i){
    var px = c.x(i)+c.x.bandwidth()/2+ (pos.dx||0), py = pos.at?pos.at(d,i):c.y(d);
    c.g.append("ellipse").attr("cx",px).attr("cy",py).attr("rx",3.6).attr("ry",2.6).attr("fill","#f7f34a");
    txt(c.g,px,py,fmt?fmt(d):d+"%",2.2,"#555");
  });
}

// monthly QC hours
tinyChip(1291,249,15,"Sum of hours");
tinyTitle(1434,254,"MONTHLY IQC ALL INC CATEGORY TOTAL LT (HOURS) - RUNNING RATE (%)");
var a1 = tinyAxes({x0:1303,x1:1553,y0:324,yTop:264,yMax:180,n:qcMonthHours.length});
tinyBars(a1,qcMonthHours,null,7.5,cNavy);
tinyLine(a1,qcMonthRate.map(function(d){return d*1.8;}),"#8660a6",0.7);
tinyTags(a1,qcMonthRate,{dx:4,at:function(d){return a1.y(d*1.8);}});
qcMonthTicks.forEach(function(t,i){ txt(a1.g,a1.x(i)+a1.x.bandwidth()/2,327,t,2.4,"#888"); });
["Jul","Aug","Sep","Oct"].forEach(function(t,i){ txt(a1.g,1332+i*62,336,t,2.6,"#888"); });
tinyChip(1291,338,13,"Month  pl");
box(svg,1563,291,26,2.5,"#d8d6dc"); box(svg,1564,297,3,1,cNavy); box(svg,1564,303,3,1,"#8660a6");
txt(svg,1568,297,"Total Hours",2.3,"#777","start"); txt(svg,1568,303,"Running Rate",2.3,"#777","start");

// weekly QC hours
tinyChip(1602,251,15,"Sum of hours");
tinyTitle(1739,260,"ISO WEEKLY IQC SELECTED INC TOTAL LT (HOURS) - RUNNING RATE (%) - LAST 3 WEEKS");
var a2 = tinyAxes({x0:1602,x1:1849,y0:315,yTop:266,yMax:150,n:qcWeekHours.length});
tinyBars(a2,qcWeekHours,null,4,cNavy);
tinyLine(a2,qcWeekRate,"#8660a6",0.7);
tinyTags(a2,qcWeekRate,{dx:3});
d3.range(qcWeekHours.length).forEach(function(i){
  txt(a2.g,a2.x(i)+a2.x.bandwidth()/2,320,qcMonthTicks[i%16],2.2,"#888");
});
["Aug","Sep","Oct"].forEach(function(t,i){ txt(a2.g,1650+i*78,335,t,2.6,"#888"); });
tinyChip(1602,338,15,"Week  pl");
box(svg,1853,294,24,2.5,"#d8d6dc"); box(svg,1854,299,3,1,cNavy); box(svg,1854,304,3,1,"#8660a6");
txt(svg,1858,299,"Total Hours",2.3,"#777","start"); txt(svg,1858,304,"Running Rate",2.3,"#777","start");

// running rate by job category
tinyChip(1281,350,14,"Sum of LT");
tinyTitle(1436,359,"MONTHLY IQC SELECTED INC RUNNING RATE (%) BY JOB CATEGORY");
var a3 = tinyAxes({x0:1290,x1:1581,y0:417,yTop:367,yMax:150,n:jobMonthDark.length});
tinyBars(a3,jobMonthLight,null,3.6,"#8fa9d3");
tinyBars(a3,jobMonthDark,jobMonthLight,3.6,"#2f5597");
tinyTags(a3,jobMonthLight,{},function(d){return d+"%";});
jobMonthDark.forEach(function(d,i){ txt(a3.g,a3.x(i)+a3.x.bandwidth()/2,420,qcMonthTicks[i%16],2.1,"#888"); });
["Aug","Sep","Oct"].forEach(function(t,i){ txt(a3.g,1336+i*99,428,t,2.6,"#888"); });
tinyChip(1281,431,13,"Month  pl");

tinyChip(1603,352,14,"Sum of LT");
tinyTitle(1749,361,"ISO WEEKLY INC RUNNING RATE (%) BY JOB CATEGORY - LAST 4 WEEKS");
var a4 = tinyAxes({x0:1611,x1:1884,y0:414,yTop:367,yMax:150,n:jobWeekBase.length});
tinyBars(a4,jobWeekBase,null,8,"#2e75b6");
tinyBars(a4,jobWeekTop,jobWeekBase,8,"#a9c7e8");
tinyTags(a4,jobWeekTop,{at:function(d,i){return a4.y(jobWeekBase[i]+d*0.6);}},function(d){return Math.round(d/1.5)+"%";});
jobWeekBase.forEach(function(d,i){ txt(a4.g,a4.x(i)+a4.x.bandwidth()/2,417,qcMonthTicks[i],2.1,"#888"); });
tinyChip(1603,430,30,"Month  Week  pl");

// 100% stacked job portion
tinyChip(1280,445,14,"Sum of job");
tinyTitle(1458,453,"ISO WEEKLY IQC SELECTED INC JOB OF WORK PORTION %, LAST 30W");
var a5 = tinyAxes({x0:1288,x1:1614,y0:503,yTop:458,yMax:100,n:stackMid.length,ticks:10});
var stackRest = stackMid.map(function(d,i){return 100-d-stackDark[i];});
tinyBars(a5,stackMid,null,4.6,"#2f5fa8");
tinyBars(a5,stackRest,stackMid,4.6,"#5b9bd5");
tinyBars(a5,stackDark,stackMid.map(function(d,i){return d+stackRest[i];}),4.6,"#1f3864");
stackMid.forEach(function(d,i){ txt(a5.g,a5.x(i)+a5.x.bandwidth()/2,506,qcMonthTicks[i%16],2.1,"#888"); });
["Aug","Sep","Oct"].forEach(function(t,i){ txt(a5.g,1340+i*110,515,t,2.6,"#888"); });
tinyChip(1280,522,14,"Month  pl");

// operation method area
tinyChip(1645,445,14,"Sum of job");
tinyTitle(1770,453,"ISO WEEKLY IQC SELECTED INC OPERATION METHOD PORTION %, LAST 3 WEEKS");
(function(){
  var c = tinyAxes({x0:1645,x1:1875,y0:496,yTop:458,yMax:120,n:methodTop.length,ticks:6});
  var x = d3.scalePoint().domain(d3.range(methodTop.length)).range([1657,1870]);
  var area = d3.area().x(function(d,i){return x(i);}).y0(function(d,i){return c.y(methodBase[i]);}).y1(function(d){return c.y(d);});
  var under = d3.area().x(function(d,i){return x(i);}).y0(c.y(0)).y1(function(d){return c.y(d);});
  c.g.append("path").attr("d",under(methodBase)).attr("fill","#a9b9e0");
  c.g.append("path").attr("d",area(methodTop)).attr("fill",cPurple);
  methodTop.forEach(function(d,i){ txt(c.g,x(i),478,d+"%",2.6,"#fff"); });
  methodTop.forEach(function(d,i){ txt(c.g,x(i),499,qcMonthTicks[i%16],2.1,"#888"); });
})();
tinyChip(1645,522,30,"Month  Week  pl");

// daily running rate lines
tinyChip(1281,530,26,"Average hours by Group");
tinyTitle(1438,539,"INTERACTIVE CHARTS");
tinyTitle(1438,544,"MONTHLY IQC SELECTED AUTO INC RUNNING RATE (%) BY JOB ACTIVITY - 2D/3D MACH");
var a7 = tinyAxes({x0:1290,x1:1562,y0:604,yTop:550,yMax:180,n:dailyRunRate.length});
tinyLine(a7,dailyRunRate,"#5a6fa8",0.8);
tinyLine(a7,dailyRunTarget,"#c0202a",0.9);
dailyRunRate.forEach(function(d,i){
  txt(a7.g,a7.x(i)+a7.x.bandwidth()/2,a7.y(d)-2.5,d,2.2,"#777");
  txt(a7.g,a7.x(i)+a7.x.bandwidth()/2,607,qcMonthTicks[i%16],2.1,"#888");
});
tinyChip(1282,617,12,"Month  pl");

// selected hours lines, upper copy
tinyChip(1607,530,18,"Sum of hours");
tinyTitle(1752,539,"SELECTED MONTHLY INSPECTOR TOTAL WORKING HOURS");
function hoursChart(x0,x1,y0,yTop,yMax,fs,labels) {
  var g = svg.append("g");
  var x = d3.scalePoint().domain(d3.range(hourTicks.length)).range([x0+(x1-x0)*0.03,x1-(x1-x0)*0.03]);
  var y = d3.scaleLinear().domain([0,yMax]).range([y0,yTop]);
  g.append("g").attr("transform","translate("+x0+",0)")
    .call(d3.axisLeft(y).ticks(3).tickSize(-(x1-x0)).tickPadding(2))
    .call(styleAxis,fs,"#888","#e7deef");
  var series = [[hourSep,"#5f86bd"],[hourAug,"#8fb0d8"],[hourJul,"#3f5f98"],[hourOct,"#101a38"]];
  series.forEach(function(s){
    var line = d3.line().x(function(d,i){return x(i);}).y(function(d){return y(d);});
    g.append("path").attr("d",line(s[0])).attr("fill","none").attr("stroke",s[1]).attr("stroke-width",labels?1.2:0.8);
    if (labels) s[0].forEach(function(d,i){
      g.append("circle").attr("cx",x(i)).attr("cy",y(d)).attr("r",0.9).attr("fill",s[1]);
      txt(g,x(i),y(d)-4,d,3,"#777");
    });
  });
  hourTicks.forEach(function(t,i){ txt(g,x(i),y0+(labels?5:4),t,fs,"#777"); });
  return {g:g,x:x};
}
var a8 = hoursChart(1611,1895,602,558,90,3,false);
hourGroups.forEach(function(t,i){ txt(a8.g,a8.x([1,6,10,14][i]),611,t,2.8,"#777"); });
legendRow([{x:1715,w:5,color:"#3f5f98",line:true,name:"Jul"},{x:1730,w:5,color:"#8fb0d8",line:true,name:"Aug"},{x:1745,w:5,color:"#5f86bd",line:true,name:"Sep"},{x:1760,w:5,color:"#101a38",line:true,name:"Oct"}],552,2.8);

// ---- lower QC dashboard ----
box(svg,1197,635,703,428,"url(#qcBg2)");
box(svg,1197,635,703,27,cNavy);
txt(svg,1208,649,"PART PRODUCTION QC MACHINE - MANPOWER DASHBOARD",12.6,"#fff","start",700);

box(svg,1202,682,124,13,"url(#chipPurple)",2);
txt(svg,1204,688.5,"General & Shift Group Filter",9.4,"#222","start",700);
box(svg,1202,699,125,119,"url(#boxPurple)",7);
periodSlicer(1210,707,109,44,"PERIOD","Apr - Oct 2023",0,6,3.4);
box(svg,1212,756,108,61,"#fff",1,"#d8cfe2");
txt(svg,1214,759,"INC",3.6,"#333","start",700);
buttons(1213,765,2,5,49,7.8,1,0.9,["T240","T340","T040","T340 (P76)","T340 (Y30)","T380","T540","T080","T580","V30"],function(i){return i<3;},"#5b9bd5","#bdbdbd",3.2);

txt(svg,1564,685,"TOTAL WORK RELATIVELY TO MANPOWER EACH SHIFT GROUP",8.8,cPurple,"middle",700);
var shiftColors = [cPurple,cNavy,"#a9bfe2"];
var lp = pieChart(svg,1421,748,43,0,shiftWork,shiftColors,0.8);
lp.forEach(function(p,i){
  box(svg,p[0]-6,p[1]-4.5,13,9,cNavy);
  txt(svg,p[0],p[1],shiftWork[i],6.5,"#fff");
});
shiftGroups.forEach(function(n,i){
  svg.append("circle").attr("cx",1335).attr("cy",732+i*18).attr("r",1.2).attr("fill",shiftColors[i]);
  txt(svg,1338,732+i*18,n,6,"#666","start");
});
(function(){
  var g = svg.append("g");
  var x = d3.scaleBand().domain(shiftGroups).range([1488,1661]);
  var left = d3.scaleLinear().domain([0,160]).range([790,711]);
  var right = d3.scaleLinear().domain([6,9]).range([790,711]);
  g.append("g").attr("transform","translate(1488,0)")
    .call(d3.axisLeft(left).tickValues([0,160]).tickSize(-173).tickPadding(5)).call(styleAxis,6,"#777");
  g.append("g").attr("transform","translate(1661,0)")
    .call(d3.axisRight(right).tickValues([6,7,8,9]).tickSize(0).tickPadding(4).tickFormat(d3.format("d"))).call(styleAxis,6,"#777");
  g.selectAll(null).data(shiftManpower).enter().append("rect")
    .attr("x",function(d,i){return x(shiftGroups[i])+x.bandwidth()/2-15;})
    .attr("y",function(d){return right(d);}).attr("width",30)
    .attr("height",function(d){return 790-right(d);}).attr("fill",cPurple);
  var line = d3.line().x(function(d,i){return x(shiftGroups[i])+x.bandwidth()/2;}).y(function(d){return left(d);});
  g.append("path").attr("d",line(shiftWork)).attr("fill","none").attr("stroke","#8a8aa0").attr("stroke-width",1).attr("stroke-dasharray","1.5,1.5");
  shiftGroups.forEach(function(n){ txt(g,x(n)+x.bandwidth()/2,798,n,5.6,"#666"); });
  box(g,1531,699,8,4,cPurple);
  txt(g,1540,701,"MANPOWER",5,"#666","start");
  g.append("line").attr("x1",1570).attr("x2",1578).attr("y1",701).attr("y2",701).attr("stroke","#8a8aa0").attr("stroke-dasharray","1.5,1.5");
  txt(g,1579,701,"TOTAL WORK",5,"#666","start");
})();
var rp = pieChart(svg,1764.5,746,42.5,0,shiftManpower,shiftColors,0.8);
rp.forEach(function(p,i){
  box(svg,p[0]-3,p[1]-5,6,10,cNavy);
  txt(svg,p[0],p[1],shiftManpower[i],6.5,"#fff");
});
shiftGroups.forEach(function(n,i){
  svg.append("circle").attr("cx",1681).attr("cy",736+i*19).attr("r",1.2).attr("fill",shiftColors[i]);
  txt(svg,1684,736+i*19,n,6,"#666","start");
});

txt(svg,1447,814,"GROUP SOPIYAH (C)",10,cPurple,"middle",500);
txt(svg,1732,814,"GROUP IJAH (A)",10,cPurple,"middle",500);
txt(svg,1447,934,"GROUP HERLINA (B)",10,cPurple,"middle",500);

// bars by person and month
function peopleBars(o) {
  var g = svg.append("g");
  var x = d3.scaleBand().domain(monthsShort).range([o.x0,o.x1]);
  var inner = d3.scaleBand().domain(d3.range(8)).range([-o.gw/2,o.gw/2]);
  var y = d3.scaleLinear().domain([0,30]).range([o.y0,o.yTop]);
  g.append("g").attr("transform","translate("+o.x0+",0)")
    .call(d3.axisLeft(y).tickValues([0,10,20,30]).tickSize(-(o.x1-o.x0)).tickPadding(3).tickFormat(function(d){return d+"%";}))
    .call(styleAxis,4.4,"#888","#e4dfea");
  monthsShort.forEach(function(m,k){
    var cx = x(m)+x.bandwidth()/2;
    g.selectAll(null).data(o.vals[k]).enter().append("rect")
      .attr("x",function(d,i){return cx+inner(i);})
      .attr("y",function(d){return y(d);})
      .attr("width",inner.bandwidth())
      .attr("height",function(d){return o.y0-y(d);})
      .attr("fill",function(d,i){return peopleColors[i];});
    txt(g,cx,o.y0+6,m,4.6,"#777");
  });
  box(g,o.lx,o.ly-7,o.lw,5.5,"#cfcfd6");
  txt(g,o.lx+1,o.ly-4.2,"PIC",3.6,"#333","start",700);
  o.names.forEach(function(n,i){
    g.append("circle").attr("cx",o.lx+2).attr("cy",o.ly+2+i*8).attr("r",1).attr("fill",peopleColors[i]);
    txt(g,o.lx+4.5,o.ly+2+i*8,n,3.8,"#777","start");
  });
}
var same = function(a){ return monthsShort.map(function(){return a;}); };
peopleBars({x0:1341,x1:1530,y0:909,yTop:827,gw:24,vals:same(sopiyahShare),names:sopiyahNames,lx:1533,lw:57,ly:844});
peopleBars({x0:1621,x1:1816,y0:909,yTop:827,gw:24,vals:same(ijahShare),names:ijahNames,lx:1823,lw:45,ly:844});
peopleBars({x0:1344,x1:1539,y0:1026,yTop:944,gw:24,vals:[herlinaApr,herlinaMay,herlinaJun,herlinaJul,herlinaAug,herlinaSep,herlinaOct],names:herlinaNames,lx:1545,lw:47,ly:961});
tinyChip(1331,811,14,"INC  \u25BC");
tinyChip(1331,819,14,"Daily Load");
tinyChip(1610,811,14,"INC  \u25BC");
tinyChip(1610,819,14,"Daily Load");
tinyChip(1331,921,30,"Dates (Month)  \u25BC");
tinyChip(1331,927,14,"INC  \u25BC");
tinyChip(1331,934,14,"Daily Load");
tinyChip(1612,921,30,"Dates (Month)  \u25BC");
tinyChip(1602,929,24,"Sum of LT Hours");
tinyChip(1331,1038,24,"Dates (Month)  \u25BE");

// manpower filter, lower dashboard
box(svg,1203,876,123,11,"url(#chipPurple)",2);
txt(svg,1208,881.5,"Manpower Rank Filter",10.4,"#222","start",700);
box(svg,1203,892,121,151,"url(#boxPurple)",8);
periodSlicer(1209,902,109,43,"PERIOD","Jul - Oct 2023",1,5,3.4);
listSlicer(1209,949,48,78,"PIC",["Sari Nur Fauziah","Mohammad I...","Mulyani","Nurhalimah M","Nurhalimah H i","Nurul Hidayah","Perdi Nur","Dewi Ayu Din"],function(i){return i==1||i==5;},"#4472c4","#bdbdbd",3.3,8,7.6,1.2);
listSlicer(1263,949,55,78,"INC",["M70","M90V","T240L","T340","T340S","T380","T340 (P76)","T540 (Y30)"],function(i){return i>0&&i<6;},"#4472c4","#bdbdbd",3.3,8,7.6,1.2);

// inspector working hours
txt(svg,1749,941,"INSPECTORS AUTOMATION WORKING HOUR",7.4,"#55505e");
tinyChip(1706,949,18,"Month  \u25BC");
legendRow([{x:1708,w:6,color:"#3f5f98",line:true,name:"Jul"},{x:1729,w:6,color:"#8fb0d8",line:true,name:"Aug"},{x:1750,w:6,color:"#5f86bd",line:true,name:"Sep"},{x:1771,w:6,color:"#101a38",line:true,name:"Oct"}],959,6);
var b8 = hoursChart(1609,1884,1042,950,150,4.4,true);
hourGroups.forEach(function(t,i){ txt(b8.g,b8.x([1,6,10,14][i]),1053,t,4,"#777"); });
tinyChip(1602,1047,26,"INC  \u25BC  INC  \u25BC");
plusMinus(1888,1046);
</script>
</body>
</html>
